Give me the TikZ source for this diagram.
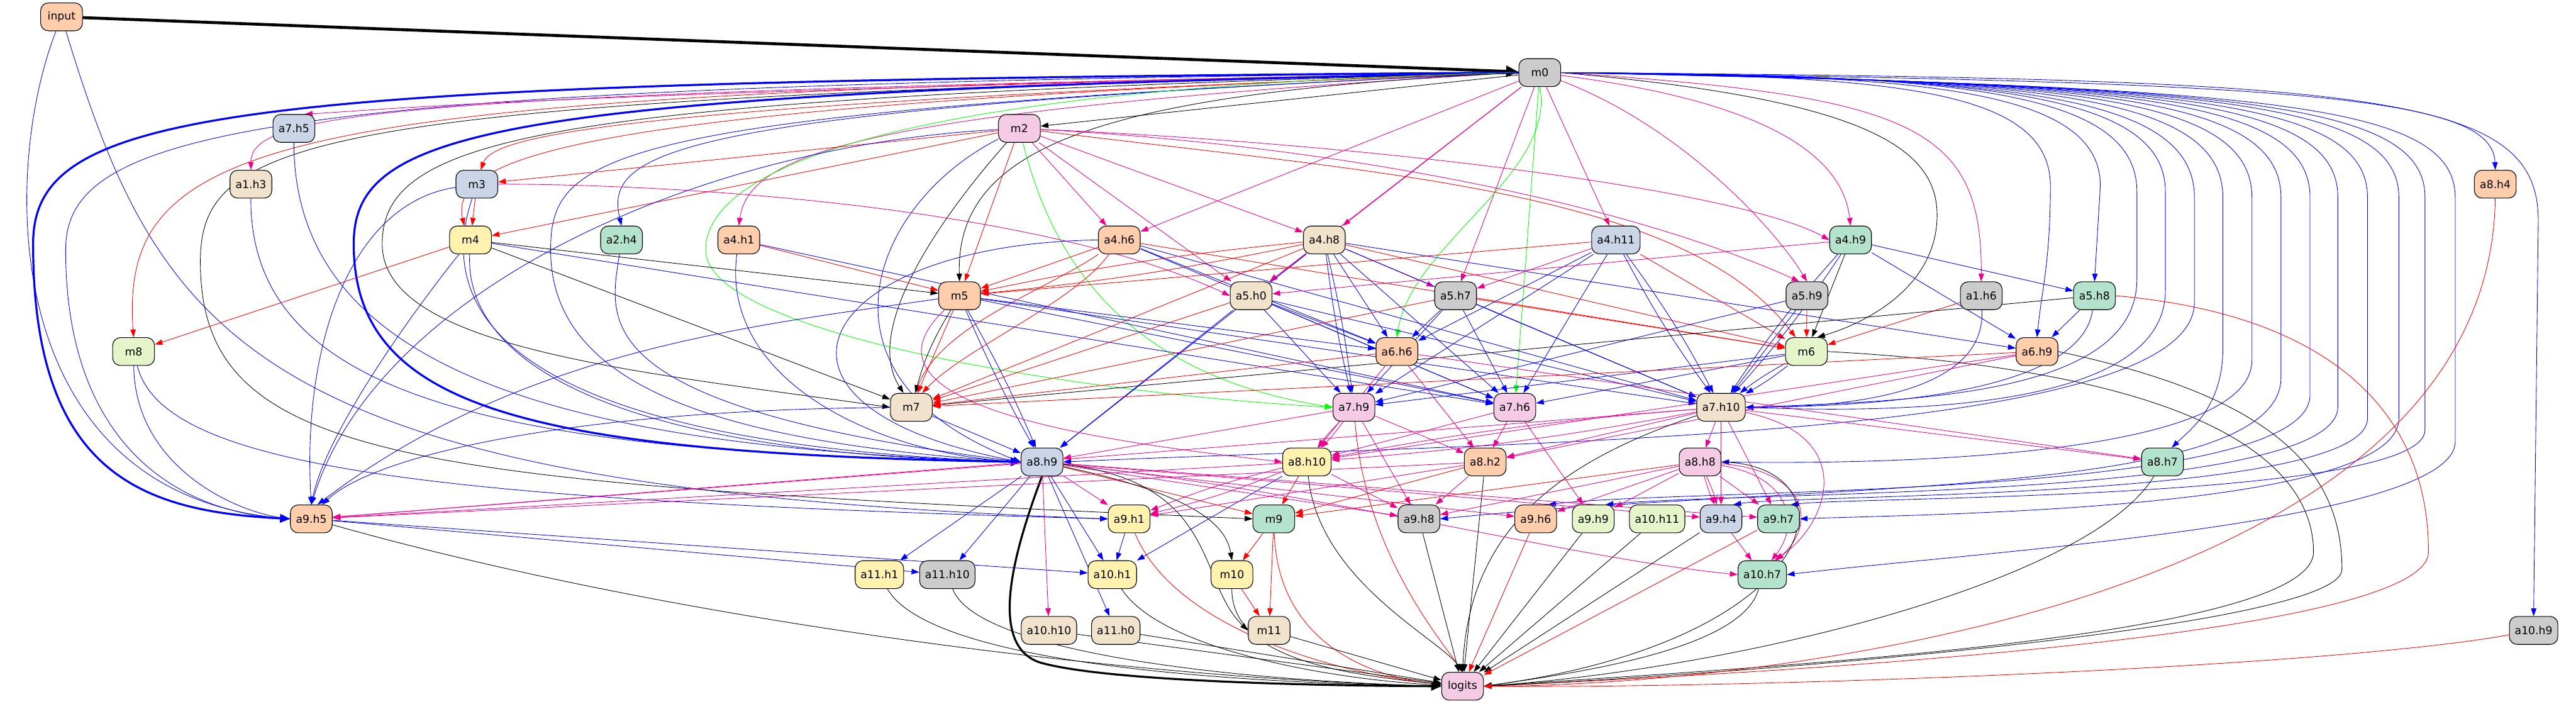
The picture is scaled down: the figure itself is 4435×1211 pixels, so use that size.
\documentclass[tikz,border=0pt]{standalone}
\usepackage{fontspec}
\setmainfont{DejaVu Sans}
\usetikzlibrary{arrows.meta}
\definecolor{cpe}{HTML}{FDCDAC}
\definecolor{cgr}{HTML}{CCCCCC}
\definecolor{cpi}{HTML}{F4CAE4}
\definecolor{cbl}{HTML}{CBD5E8}
\definecolor{cbe}{HTML}{F1E2CC}
\definecolor{cye}{HTML}{FFF2AE}
\definecolor{cgn}{HTML}{B3E2CD}
\definecolor{clg}{HTML}{E6F5C9}
\pgfdeclarelayer{edges}
\pgfsetlayers{edges,main}
\tikzset{
 nd/.style={draw=black, line width=0.9pt, rounded corners=10pt, minimum width=54pt, minimum height=36pt, inner xsep=7pt, inner ysep=2pt, font=\fontsize{14}{16}\selectfont, fill=#1},
 ed/.style={line width=0.7pt, -{Triangle[length=10pt,width=7pt]}},
 eb/.style={ed, blue}, er/.style={ed, red}, em/.style={ed, magenta}, ek/.style={ed, black}, eg/.style={ed, green},
 tk/.style={line width=2.6pt, -{Triangle[length=13pt,width=11pt]}}
}
\begin{document}
\begin{tikzpicture}[x=0.75pt,y=0.75pt]
\useasboundingbox (0,0) rectangle (4435,-1211);
\node[nd=cpe] (input) at (106,-29) {input};
\node[nd=cgr] (m0) at (2651,-125) {m0};
\node[nd=cbl] (a7h5) at (506,-221) {a7.h5};
\node[nd=cpi] (m2) at (1755,-221) {m2};
\node[nd=cbe] (a1h3) at (432,-317) {a1.h3};
\node[nd=cbl] (m3) at (821,-317) {m3};
\node[nd=cpe] (a8h4) at (4296,-317) {a8.h4};
\node[nd=cye] (m4) at (810,-413) {m4};
\node[nd=cgn] (a2h4) at (1070,-413) {a2.h4};
\node[nd=cpe] (a4h1) at (1272,-413) {a4.h1};
\node[nd=cpe] (a4h6) at (1927,-413) {a4.h6};
\node[nd=cbe] (a4h8) at (2280,-413) {a4.h8};
\node[nd=cbl] (a4h11) at (2782,-413) {a4.h11};
\node[nd=cgn] (a4h9) at (3186,-413) {a4.h9};
\node[nd=cpe] (m5) at (1652,-509) {m5};
\node[nd=cbe] (a5h0) at (2154,-509) {a5.h0};
\node[nd=cgr] (a5h7) at (2506,-509) {a5.h7};
\node[nd=cgr] (a5h9) at (3111,-509) {a5.h9};
\node[nd=cgr] (a1h6) at (3411,-509) {a1.h6};
\node[nd=cgn] (a5h8) at (3606,-509) {a5.h8};
\node[nd=clg] (m8) at (230,-605) {m8};
\node[nd=cpe] (a6h6) at (2405,-605) {a6.h6};
\node[nd=clg] (m6) at (3110,-605) {m6};
\node[nd=cpe] (a6h9) at (3507,-605) {a6.h9};
\node[nd=cbe] (m7) at (1569,-701) {m7};
\node[nd=cpi] (a7h9) at (2331,-701) {a7.h9};
\node[nd=cpi] (a7h6) at (2608,-701) {a7.h6};
\node[nd=cbe] (a7h10) at (2963,-701) {a7.h10};
\node[nd=cbl] (a8h9) at (1794,-795) {a8.h9};
\node[nd=cye] (a8h10) at (2250,-795) {a8.h10};
\node[nd=cpe] (a8h2) at (2557,-795) {a8.h2};
\node[nd=cpi] (a8h8) at (2927,-795) {a8.h8};
\node[nd=cgn] (a8h7) at (3723,-795) {a8.h7};
\node[nd=cpe] (a9h5) at (536,-893) {a9.h5};
\node[nd=cye] (a9h1) at (1944,-893) {a9.h1};
\node[nd=cgn] (m9) at (2193,-893) {m9};
\node[nd=cgr] (a9h8) at (2443,-893) {a9.h8};
\node[nd=cpe] (a9h6) at (2644,-893) {a9.h6};
\node[nd=clg] (a9h9) at (2743,-893) {a9.h9};
\node[nd=clg] (a10h11) at (2853,-893) {a10.h11};
\node[nd=cbl] (a9h4) at (2963,-893) {a9.h4};
\node[nd=cgn] (a9h7) at (3062,-893) {a9.h7};
\node[nd=cye] (a11h1) at (1514,-989) {a11.h1};
\node[nd=cgr] (a11h10) at (1631,-989) {a11.h10};
\node[nd=cye] (a10h1) at (1915,-989) {a10.h1};
\node[nd=cye] (m10) at (2121,-989) {m10};
\node[nd=cgn] (a10h7) at (3034,-989) {a10.h7};
\node[nd=cbe] (a10h10) at (1806,-1085) {a10.h10};
\node[nd=cbe] (a11h0) at (1921,-1085) {a11.h0};
\node[nd=cbe] (m11) at (2185,-1085) {m11};
\node[nd=cgr] (a10h9) at (4362,-1085) {a10.h9};
\node[nd=cpi] (logits) at (2518,-1181) {logits};

\begin{pgfonlayer}{edges}
% input
\draw[ek, line width=3.8pt, -{Triangle[length=16pt,width=14pt]}] (input) -- (m0);
\draw[eb] (input) .. controls (0,-300) and (0,-850) .. (a9h5.west);
\draw[eb] (input) .. controls (280,-600) and (450,-840) .. (a9h1.west);
% m0 left side
\draw[eb, tk] (m0.west) .. controls (400,-140) and (57,-180) .. (57,-420) .. controls (57,-820) and (250,-880) .. (a9h5.west);
\draw[eb] (m0.west) .. controls (450,-145) and (113,-220) .. (113,-430) .. controls (113,-760) and (300,-880) .. (a9h5.west);
\draw[er] (m0.west) .. controls (500,-160) and (205,-220) .. (m8.north);
\draw[ek] (m0.west) .. controls (550,-168) and (345,-230) .. (345,-450) .. controls (345,-800) and (700,-830) .. (m9.west);
\draw[em] (m0.west) .. controls (700,-160) and (432,-190) .. (a1h3.north);
\draw[em] (m0.west) .. controls (900,-160) and (650,-190) .. ([xshift=14pt]a7h5.north);
\draw[eb, tk] (m0.west) .. controls (850,-160) and (609,-220) .. (609,-420) .. controls (609,-700) and (900,-780) .. (a8h9.west);
\draw[ek] (m0.west) .. controls (950,-170) and (658,-230) .. (658,-420) .. controls (658,-600) and (1100,-640) .. (m7.west);
\draw[er] (m0.west) .. controls (1050,-180) and (770,-260) .. ([xshift=-8pt]m4.north);
\draw[er] (m0.west) .. controls (1100,-180) and (850,-230) .. ([xshift=5pt]m3.north);
\draw[eb] (m0.west) .. controls (1150,-190) and (1040,-260) .. (a2h4.north);
\draw[eb] (m0.west) .. controls (1050,-195) and (948,-260) .. (948,-430) .. controls (948,-650) and (1200,-760) .. (a8h9.west);
\draw[em] (m0.west) .. controls (1500,-190) and (1290,-260) .. (a4h1.north);
\draw[eg] (m0.west) .. controls (1500,-150) and (1215,-300) .. (1215,-430) .. controls (1215,-580) and (1900,-680) .. (a7h9.west);
\draw[ek] (m0.west) .. controls (1900,-160) and (1645,-250) .. (m5.north);
\draw[ek] (m0) -- (m2);
\draw[em] (m0) -- (a4h6);
\draw[em] (m0) -- (a4h8);
\draw[em] (m0) -- (a5h0);
\draw[em] (m0) -- (a5h7);
\draw[eg] (m0) -- (a7h6);
\draw[eg] (m0.south) .. controls (2680,-300) and (2430,-420) .. (a6h6.north);
\draw[em] (m0) -- (a4h11);
\draw[em] (m0) .. controls (2900,-220) and (3060,-400) .. (a5h9.north);
\draw[em] (m0) .. controls (3000,-170) and (3170,-250) .. (a4h9.north);
\draw[ek] (m0.east) .. controls (3200,-170) and (3335,-250) .. (3335,-370) .. controls (3335,-500) and (3200,-560) .. ([xshift=14pt]m6.north);
\draw[em] (m0.east) .. controls (3300,-165) and (3412,-220) .. (a1h6.north);
% m0 right side
\draw[eb] (m0.east) .. controls (3250,-130) and (3530,-150) .. (3530,-320) .. controls (3530,-450) and (3515,-500) .. (a6h9.north);
\draw[eb] (m0.east) .. controls (3300,-128) and (3616,-150) .. (3616,-320) -- (a5h8.north);
\draw[eb] (m0.east) .. controls (3350,-128) and (3679,-150) .. (3679,-330) -- (3679,-480) .. controls (3679,-680) and (3300,-690) .. (a7h10.east);
\draw[eb] (m0.east) .. controls (3400,-130) and (3728,-155) .. (3728,-330) -- (3728,-500) .. controls (3728,-700) and (3300,-712) .. (a7h10.east);
\draw[eb] (m0.east) .. controls (3450,-132) and (3778,-158) .. (3778,-340) -- (3778,-520) .. controls (3778,-760) and (2600,-760) .. (a8h9.east);
\draw[eb] (m0.east) .. controls (3500,-134) and (3827,-160) .. (3827,-340) -- (3827,-600) .. controls (3827,-700) and (3770,-740) .. ([xshift=12pt]a8h7.north);
\draw[eb] (m0.east) .. controls (3550,-136) and (3877,-162) .. (3877,-340) -- (3877,-620) .. controls (3877,-780) and (3300,-800) .. (a8h8.east);
\draw[eb] (m0.east) .. controls (3600,-138) and (3927,-164) .. (3927,-340) -- (3927,-650) .. controls (3927,-860) and (3100,-830) .. (a9h8.east);
\draw[eb] (m0.east) .. controls (3650,-140) and (3977,-166) .. (3977,-340) -- (3977,-680) .. controls (3977,-860) and (2900,-840) .. ([xshift=16pt]a9h6.north);
\draw[eb] (m0.east) .. controls (3700,-142) and (4025,-168) .. (4025,-340) -- (4025,-700) .. controls (4025,-860) and (3000,-845) .. ([xshift=16pt]a9h9.north);
\draw[eb] (m0.east) .. controls (3750,-144) and (4076,-170) .. (4076,-340) -- (4076,-720) .. controls (4076,-860) and (3100,-850) .. ([xshift=16pt]a9h4.north);
\draw[eb] (m0.east) .. controls (3800,-146) and (4130,-172) .. (4130,-340) -- (4130,-720) .. controls (4130,-880) and (3300,-885) .. (a9h7.east);
\draw[eb] (m0.east) .. controls (3850,-148) and (4175,-174) .. (4175,-340) -- (4175,-740) .. controls (4175,-860) and (3200,-855) .. ([xshift=16pt]a9h7.north);
\draw[eb] (m0.east) .. controls (3900,-150) and (4227,-176) .. (4227,-340) -- (4227,-760) .. controls (4227,-900) and (3400,-950) .. (a10h7.east);
\draw[eb] (m0.east) .. controls (4000,-140) and (4291,-170) .. (a8h4.north);
\draw[eb] (m0.east) .. controls (4100,-135) and (4370,-160) .. (4370,-380) -- (a10h9.north);
% m2
\draw[er] (m2) -- (m3);
\draw[er] (m2) -- (m4);
\draw[er] (m2) -- (m5);
\draw[ek] (m2) .. controls (1640,-350) and (1480,-560) .. ([xshift=-10pt]m7.north);
\draw[eg] (m2) .. controls (1800,-400) and (1900,-640) .. (a7h9.west);
\draw[em] (m2) -- (a4h6);
\draw[em] (m2) -- (a4h8);
\draw[em] (m2) -- (a5h0);
\draw[em] (m2) .. controls (2400,-250) and (3000,-330) .. (a4h9.west);
\draw[em] (m2) .. controls (2300,-250) and (2800,-350) .. ([xshift=-10pt]a5h9.north);
\draw[er] (m2) .. controls (2400,-300) and (2900,-330) .. ([xshift=-14pt]m6.north);
\draw[eb] (m2) .. controls (1500,-350) and (1380,-650) .. (a8h9.west);
\draw[eb] (m2) .. controls (1200,-250) and (650,-500) .. (a9h5.north);
% m3, m4
\draw[er] (m3) -- (m4);
\draw[em] (m3) .. controls (1200,-317) and (1800,-360) .. (a5h0.west);
\draw[eb] (m3) .. controls (600,-350) and (520,-600) .. (a9h5.north);
\draw[eb] (m3) .. controls (760,-500) and (800,-760) .. (a8h9.west);
\draw[er] (m4) -- (m8);
\draw[ek] (m4) -- (m5);
\draw[ek] (m4) -- (m7);
\draw[eb] (m4) .. controls (700,-550) and (560,-750) .. (a9h5.north);
\draw[eb] (m4) .. controls (800,-600) and (1000,-780) .. (a8h9.west);
\draw[eb] (m4) -- (a7h6);
\draw[eb] (a2h4) .. controls (1050,-550) and (1000,-700) .. (a8h9.west);
\draw[eb] (a1h3) .. controls (430,-700) and (900,-780) .. (a8h9.west);
\draw[eb] (a7h5) .. controls (506,-650) and (1000,-770) .. (a8h9.west);
\draw[eb] (m8) .. controls (232,-800) and (400,-880) .. (a9h5.west);
\draw[eb] (m8) .. controls (280,-800) and (700,-860) .. (a9h1.west);
% a4 row
\draw[er] (a4h1) -- (m5);
\draw[eb] (a4h1) .. controls (1240,-650) and (1500,-780) .. (a8h9.west);
\draw[eb] (a4h1) -- (a7h6);
\draw[er] (a4h6) -- (m5);
\draw[er] (a4h6) .. controls (1800,-500) and (1620,-560) .. ([xshift=5pt]m7.north);
\draw[er] (a4h6) .. controls (1850,-520) and (1660,-600) .. ([xshift=14pt]m7.north);
\draw[eb] (a4h6.west) .. controls (1400,-420) and (1250,-700) .. (a8h9.west);
\draw[eb] (a4h6) -- (a6h6);
\draw[eb] (a4h6) -- (a7h6);
\draw[eb] (a4h6) -- (a7h10);
\draw[er] (a4h6) -- (m6);
\draw[er] (a4h8) to[bend left=3] (m5);
\draw[er] (a4h8) to[bend right=3] (m5);
\draw[er] (a4h8) -- (m7);
\draw[em] (a4h8) -- (a5h7);
\draw[em] (a4h8) -- (a5h0);
\draw[eb] (a4h8) -- (a6h6);
\draw[eb] (a4h8) to[bend left=3] (a7h9);
\draw[eb] (a4h8) to[bend right=3] (a7h9);
\draw[eb] (a4h8) -- (a7h6);
\draw[eb] (a4h8) -- (a7h10);
\draw[eb] (a4h8) -- (a8h9);
\draw[eb] (a4h8) -- (a6h9);
\draw[er] (a4h8) -- (m6);
\draw[em] (a4h11) -- (a5h7);
\draw[er] (a4h11) -- (m5);
\draw[eb] (a4h11) -- (a6h6);
\draw[eb] (a4h11) -- (a7h9);
\draw[eb] (a4h11) -- (a7h6);
\draw[eb] (a4h11) to[bend left=4] (a7h10);
\draw[eb] (a4h11) to[bend right=4] (a7h10);
\draw[er] (a4h11) -- (m6);
\draw[em] (a4h9) -- (a5h0);
\draw[ek] (a4h9) -- (m6);
\draw[eb] (a4h9) -- (a5h8);
\draw[eb] (a4h9) -- (a6h9);
\draw[eb] (a4h9) to[bend left=4] (a7h10);
\draw[eb] (a4h9) to[bend right=4] (a7h10);
% a5 row
\draw[er] (a5h0) -- (m7);
\draw[eb] (a5h0) -- (a6h6);
\draw[eb] (a5h0) -- (a7h9);
\draw[eb] (a5h0) -- (a8h9);
\draw[eb] (a5h0) -- (a7h6);
\draw[eb] (a5h0) -- (a7h10);
\draw[ek] (m5) to[bend right=8] (m7);
\draw[er] (m5) -- (m7);
\draw[eb] (m5) to[bend left=3] (a8h9);
\draw[eb] (m5) to[bend right=3] (a8h9);
\draw[eb] (m5) .. controls (1300,-560) and (900,-600) .. ([xshift=8pt]a9h5.north);
\draw[eb] (m5) -- (a6h6);
\draw[eb] (m5) -- (a7h6);
\draw[eb] (m5) -- (a7h10);
\draw[em] (m5) .. controls (1450,-700) and (1900,-760) .. (a8h10.west);
\draw[eb] (a5h7) -- (a6h6);
\draw[eb] (a5h7) -- (a7h9);
\draw[eb] (a5h7) -- (a7h6);
\draw[eb] (a5h7) -- (a7h10);
\draw[er] (a5h7) -- (m6);
\draw[er] (a5h7) -- (m7);
\draw[er] (a5h9) -- (m6);
\draw[eb] (a5h9) -- (a7h9);
\draw[eb] (a5h9) -- (a7h10);
\draw[er] (a1h6) -- (m6);
\draw[eb] (a1h6) .. controls (3420,-700) and (3100,-700) .. (a7h10.east);
\draw[eb] (a5h8) -- (a6h9);
\draw[ek] (a5h8) -- (m7);
\draw[eb] (a5h8) .. controls (3580,-700) and (3100,-700) .. (a7h10.east);
\draw[er] (a5h8.east) .. controls (4000,-540) and (4181,-700) .. (4181,-950) .. controls (4181,-1100) and (3000,-1160) .. (logits.east);
% a6 row
\draw[er] (a6h6) -- (m7);
\draw[em] (a6h6) -- (a8h2);
\draw[em] (a6h6) -- (a8h10);
\draw[em] (a6h6) -- (a8h7);
\draw[eb] (m6) -- (a7h9);
\draw[eb] (m6) -- (a7h6);
\draw[eb] (m6) to[bend left=4] (a7h10);
\draw[eb] (m6) to[bend right=4] (a7h10);
\draw[ek] (m6.east) .. controls (3800,-640) and (3983,-800) .. (3983,-950) .. controls (3983,-1100) and (3000,-1150) .. (logits.east);
\draw[er] (a6h9) -- (m7);
\draw[em] (a6h9) -- (a8h10);
\draw[em] (a6h9) -- (a8h2);
\draw[ek] (a6h9.east) .. controls (3900,-680) and (4032,-800) .. (4032,-980) .. controls (4032,-1080) and (3000,-1160) .. (logits.east);
% a7 row
\draw[eb] (m7) -- (a8h9);
\draw[eb] (m7) .. controls (1000,-705) and (650,-780) .. ([xshift=14pt]a9h5.north);
\draw[em] (a7h9) to[bend left=4] (a8h10);
\draw[em] (a7h9) to[bend right=4] (a8h10);
\draw[em] (a7h9) -- (a8h2);
\draw[em] (a7h9) -- (a8h9);
\draw[em] (a7h9) -- (a9h8);
\draw[er] (a7h9) .. controls (2350,-950) and (2480,-1100) .. (logits.north);
\draw[em] (a7h6) -- (a8h10);
\draw[em] (a7h6) -- (a8h2);
\draw[em] (a7h6) -- (a9h9);
\draw[em] (a7h10) to[bend left=3] (a8h10);
\draw[em] (a7h10) to[bend right=3] (a8h10);
\draw[em] (a7h10) -- (a8h2);
\draw[em] (a7h10) -- (a8h8);
\draw[em] (a7h10) -- (a8h7);
\draw[em] (a7h10) -- (a9h5);
\draw[em] (a7h10) -- (a9h4);
\draw[em] (a7h10) -- (a9h7);
\draw[em] (a7h10) .. controls (3200,-750) and (3150,-900) .. ([xshift=16pt]a10h7.north);
\draw[ek] (a7h10) .. controls (2700,-790) and (2530,-900) .. (logits.north);
% a8 row
\draw[ek, tk] (a8h9.south) .. controls (1745,-950) and (1700,-1110) .. (1790,-1140) .. controls (1900,-1172) and (2250,-1180) .. (logits.west);
\draw[em] (a8h9) -- (a9h5);
\draw[em] (a8h9) -- (a9h1);
\draw[er] (a8h9) -- (m9);
\draw[em] (a8h9) -- (a9h8);
\draw[em] (a8h9) -- (a9h6);
\draw[em] (a8h9) -- (a9h4);
\draw[em] (a8h9) -- (a9h7);
\draw[em] (a8h9) .. controls (2300,-850) and (2700,-960) .. (a10h7.west);
\draw[eb] (a8h9) -- (a11h1);
\draw[eb] (a8h9) -- (a11h10);
\draw[eb] (a8h9) -- (a10h1);
\draw[em] (a8h9) -- (a10h10);
\draw[eb] (a8h9) -- (a11h0);
\draw[ek] (a8h9) .. controls (2050,-850) and (2110,-900) .. (m10.north);
\draw[ek] (a8h9) .. controls (2100,-830) and (2060,-1000) .. (m11.west);
\draw[em] (a8h10) -- (a9h5);
\draw[em] (a8h10) to[bend left=4] (a9h1);
\draw[em] (a8h10) to[bend right=4] (a9h1);
\draw[er] (a8h10) -- (m9);
\draw[em] (a8h10) -- (a9h8);
\draw[eb] (a8h10) -- (a10h1);
\draw[ek] (a8h10) .. controls (2270,-1000) and (2480,-1100) .. (logits.north);
\draw[em] (a8h2) -- (a9h1);
\draw[er] (a8h2) -- (m9);
\draw[em] (a8h2) -- (a9h8);
\draw[em] (a8h2) -- (a9h5);
\draw[ek] (a8h2) -- (logits);
\draw[em] (a8h8) to[bend left=4] (a9h4);
\draw[em] (a8h8) to[bend right=4] (a9h4);
\draw[em] (a8h8) -- (a9h7);
\draw[em] (a8h8) .. controls (3080,-820) and (3100,-900) .. ([xshift=12pt]a10h7.north);
\draw[em] (a8h8) .. controls (3110,-810) and (3130,-900) .. ([xshift=18pt]a10h7.north);
\draw[em] (a8h8) -- (a9h8);
\draw[em] (a8h8) -- (a9h6);
\draw[em] (a8h8) -- (a9h9);
\draw[er] (a8h8) -- (m9);
\draw[ek] (a8h8.east) .. controls (3200,-800) and (3150,-1100) .. (logits.east);
\draw[ek] (a8h7) .. controls (3600,-1000) and (3000,-1150) .. (logits.east);
% a9 row and below
\draw[ek] (a9h5) .. controls (1200,-1080) and (2000,-1170) .. (logits.west);
\draw[eb] (a9h5) -- (a10h1);
\draw[eb] (a9h5) -- (a11h10);
\draw[eb] (a9h1) -- (a10h1);
\draw[er] (a9h1) .. controls (2020,-1080) and (2300,-1160) .. (logits);
\draw[er] (m9) -- (m10);
\draw[er] (m9) -- (m11);
\draw[er] (m9) .. controls (2200,-1100) and (2350,-1165) .. (logits);
\draw[ek] (a9h8) -- (logits);
\draw[er] (a9h6) -- (logits);
\draw[ek] (a9h9) -- (logits);
\draw[ek] (a10h11) -- (logits);
\draw[ek] (a9h4) -- (logits);
\draw[em] (a9h4) -- (a10h7);
\draw[er] (a9h7) -- (logits);
\draw[ek] (a10h7) .. controls (3000,-1120) and (2700,-1160) .. (logits.east);
\draw[ek] (a11h1) .. controls (1600,-1140) and (2100,-1175) .. (logits.west);
\draw[ek] (a11h10) .. controls (1680,-1120) and (2100,-1170) .. (logits.west);
\draw[ek] (a10h10) -- (logits);
\draw[ek] (a11h0) -- (logits);
\draw[ek] (a10h1) .. controls (2000,-1120) and (2300,-1170) .. (logits);
\draw[er] (m10) -- (m11);
\draw[ek] (m10) .. controls (2120,-1130) and (2300,-1160) .. (logits);
\draw[ek] (m11) -- (logits);
\draw[er] (a8h4.south) .. controls (4285,-1050) and (3000,-1180) .. (logits.east);
\draw[er] (a10h9) .. controls (4000,-1150) and (3000,-1185) .. (logits.east);
\end{pgfonlayer}
\end{tikzpicture}
\end{document}
